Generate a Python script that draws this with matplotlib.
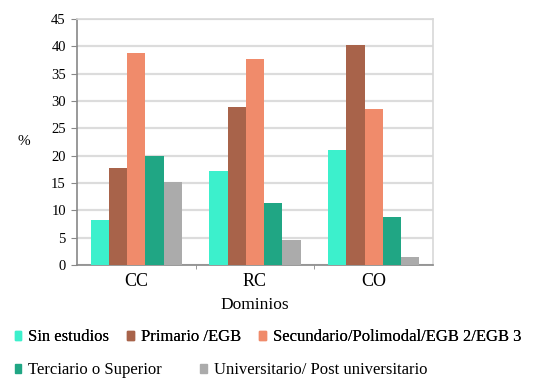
import numpy as np
import matplotlib
matplotlib.use('Agg')
import matplotlib.pyplot as plt
from matplotlib.patches import Patch

plt.rcParams['font.family'] = ['Liberation Serif', 'DejaVu Serif']

dominios = ['CC', 'RC', 'CO']
niveles = ['Sin estudios', 'Primario /EGB', 'Secundario/Polimodal/EGB 2/EGB 3',
           'Terciario o Superior', 'Universitario/ Post universitario']
sin_estudios = [8.2, 17.2, 21.0]
primario = [17.7, 28.9, 40.2]
secundario = [38.8, 37.6, 28.5]
terciario = [20.0, 11.3, 8.8]
universitario = [15.2, 4.6, 1.5]
colores = ['#3cf0cc', '#a8634a', '#f08b6b', '#20a684', '#ababab']

series = [sin_estudios, primario, secundario, terciario, universitario]

fig = plt.figure(figsize=(5.42, 3.8), dpi=100)
ax = fig.add_axes([0.142, 0.303, 0.657, 0.647])

x = np.arange(len(dominios))
w = 0.154
for i, vals in enumerate(series):
    ax.bar(x + (i - 2) * w, vals, w, color=colores[i], zorder=3)

ax.set_xlim(-0.5, 2.5)
ax.set_ylim(0, 45)
ax.set_yticks(range(0, 46, 5))
ax.yaxis.grid(True, color='#dcdcdc', linewidth=1.6, zorder=0)
ax.set_xticks(x)
ax.set_xticklabels(dominios, fontsize=13)
ax.set_xticks([0.5, 1.5], minor=True)
ax.tick_params(axis='x', which='major', length=0, pad=6)
ax.tick_params(axis='x', which='minor', length=3, color='#888888')
ax.tick_params(axis='y', length=4, color='#888888', labelsize=10.5, pad=4)
for s in ['top', 'right']:
    ax.spines[s].set_color('#d8d8d8')
    ax.spines[s].set_linewidth(1.2)
for s in ['left', 'bottom']:
    ax.spines[s].set_color('#888888')
    ax.spines[s].set_linewidth(1.2)
ax.set_ylabel('%', fontsize=11, rotation=0, labelpad=20, va='center')
ax.set_xlabel('Dominios', fontsize=12.5, labelpad=5)

handles = [Patch(color=c) for c in colores]
leg1 = fig.legend(handles[:3], niveles[:3], loc='center left',
                  bbox_to_anchor=(0.015, 1 - 337 / 380), ncol=3, frameon=False,
                  fontsize=12, handlelength=0.4, handleheight=0.45,
                  handletextpad=0.4, columnspacing=1.1, borderaxespad=0)
fig.add_artist(leg1)
fig.legend(handles[3:], niveles[3:], loc='center left',
           bbox_to_anchor=(0.015, 1 - 370 / 380), ncol=2, frameon=False,
           fontsize=12, handlelength=0.4, handleheight=0.45,
           handletextpad=0.4, columnspacing=2.3, borderaxespad=0)

plt.savefig('out.png', dpi=100)
